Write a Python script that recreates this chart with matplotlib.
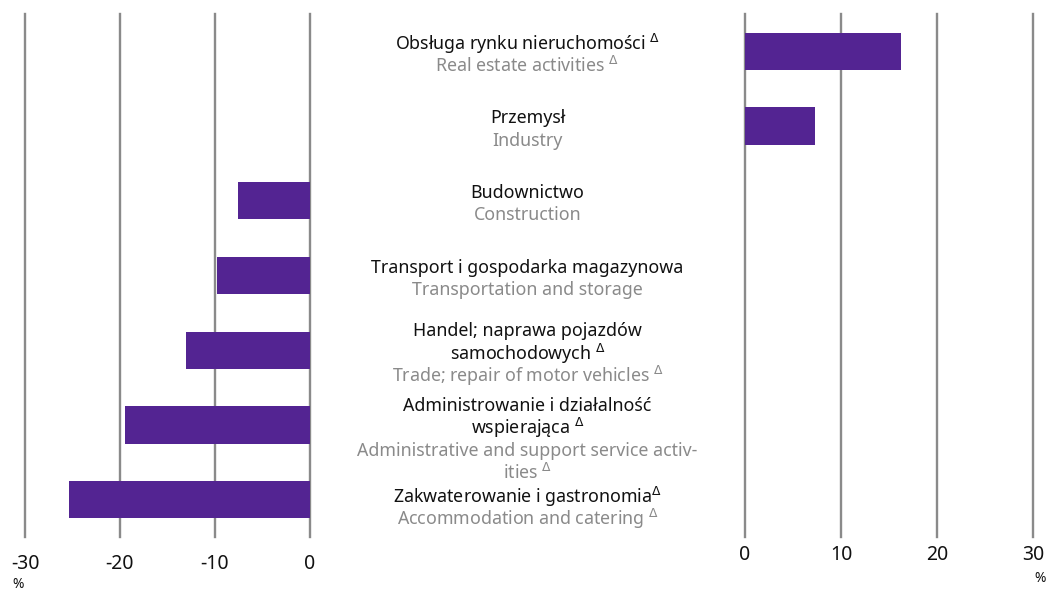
import matplotlib
matplotlib.use("Agg")
import matplotlib.pyplot as plt
import matplotlib.transforms as mtransforms
import numpy as np

plt.rcParams['font.family'] = ['Noto Sans', 'DejaVu Sans']
plt.rcParams['mathtext.fontset'] = 'dejavusans'

# ---------------------------------------------------------------------------
# data
# ---------------------------------------------------------------------------
labels_pl = [
    "Obsługa rynku nieruchomości $^{\\Delta}$",
    "Przemysł",
    "Budownictwo",
    "Transport i gospodarka magazynowa",
    "Handel; naprawa pojazdów\nsamochodowych $^{\\Delta}$",
    "Administrowanie i działalność\nwspierająca $^{\\Delta}$",
    "Zakwaterowanie i gastronomia$^{\\Delta}$",
]
labels_en = [
    "Real estate activities $^{\\Delta}$",
    "Industry",
    "Construction",
    "Transportation and storage",
    "Trade; repair of motor vehicles $^{\\Delta}$",
    "Administrative and support service activ-\nities $^{\\Delta}$",
    "Accommodation and catering $^{\\Delta}$",
]
values = [16.2, 7.3, -7.6, -9.8, -13.1, -19.5, -25.4]

left_ticks = [-30, -20, -10, 0]
right_ticks = [0, 10, 20, 30]

BAR_COLOR = "#532492"
GRID_COLOR = "#8a8a8a"
PL_COLOR = "#111111"
EN_COLOR = "#8a8a8a"

# ---------------------------------------------------------------------------
fig = plt.figure(figsize=(10.5, 5.91), dpi=100)
W, H = 1050, 591
top, bottom = 14, 537
ax_l = fig.add_axes([25 / W, 1 - bottom / H, 285 / W, (bottom - top) / H])
ax_r = fig.add_axes([745 / W, 1 - bottom / H, 288 / W, (bottom - top) / H])

vals = np.array(values)
rows = np.arange(len(vals))
neg = np.where(vals < 0, vals, 0)
pos = np.where(vals > 0, vals, 0)

for ax, v, ticks, pad in [(ax_l, neg, left_ticks, 12), (ax_r, pos, right_ticks, 6)]:
    ax.barh(rows, v, height=0.5, color=BAR_COLOR, zorder=3)
    ax.set_ylim(len(vals) - 0.5, -0.5)
    ax.set_xlim(ticks[0], ticks[-1])
    ax.set_xticks(ticks)
    ax.set_xticklabels([str(t) for t in ticks])
    ax.set_yticks([])
    for t in ticks:
        ax.axvline(t, color=GRID_COLOR, lw=1.7, zorder=2, clip_on=False)
    for s in ax.spines.values():
        s.set_visible(False)
    ax.tick_params(axis='x', length=0, pad=pad, labelsize=14, colors='#111111')

fig.text(18 / W, 1 - 584 / H, "%", fontsize=10, ha='center', va='center', color='#111111')
fig.text(1040 / W, 1 - 579 / H, "%", fontsize=10, ha='center', va='center', color='#111111')

# centre labels: polish lines + first english line are centred on the row,
# further english lines run on below; a block is pushed down if it would
# run into the one above
xc = 527.5 / W
line_pt = 16.0
min_gap = 17.5
row_pt = (bottom - top) / len(vals) * 72 / 100
prev_last = None  # y of previous block's last line, points below row 0
for i, (pl, en) in enumerate(zip(labels_pl, labels_en)):
    lines = [(s, PL_COLOR) for s in pl.split("\n")] + [(s, EN_COLOR) for s in en.split("\n")]
    k = len(pl.split("\n")) + 1
    first = i * row_pt - (k - 1) / 2 * line_pt + 2.5
    if prev_last is not None and first - prev_last < min_gap:
        first = prev_last + min_gap
    for j, (s, c) in enumerate(lines):
        y_down = first + j * line_pt
        tr = mtransforms.offset_copy(ax_l.transData, fig=fig, x=0, y=-y_down, units='points')
        tr = mtransforms.blended_transform_factory(fig.transFigure, tr)
        fig.text(xc, 0, s, transform=tr, ha='center', va='center',
                 fontsize=12.8, color=c)
    prev_last = first + (len(lines) - 1) * line_pt

fig.savefig("out.png", dpi=100)
